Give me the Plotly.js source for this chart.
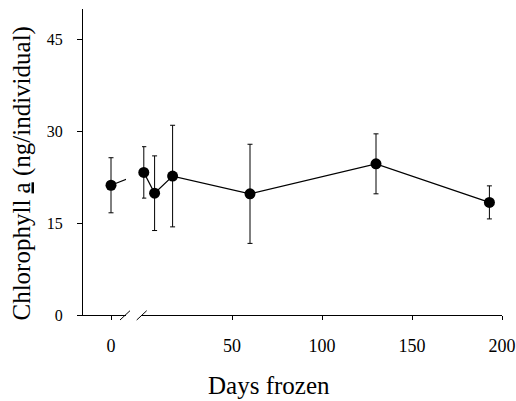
<!DOCTYPE html>
<html>
<head>
<meta charset="utf-8">
<script src="https://cdn.plot.ly/plotly-3.0.1.min.js"></script>
<style>html,body{margin:0;padding:0;background:#fff;}</style>
</head>
<body>
<div id="chart" style="width:516px;height:401px;"></div>
<script>
// Data
const days = [0, 1, 7, 17, 60, 130, 193];
const chlorophyll = [21.2, 23.3, 19.9, 22.7, 19.8, 24.7, 18.4];
const errors = [4.5, 4.2, 6.1, 8.3, 8.1, 4.9, 2.7];
const xTicksMain = [50, 100, 150, 200];
const yTicks = [0, 15, 30, 45];

const serif = 'Liberation Serif';
const common = {
  mode: 'lines+markers',
  type: 'scatter',
  line: {color: '#000', width: 1.2},
  marker: {color: '#000', size: 11},
  showlegend: false,
  hoverinfo: 'skip'
};

// Segment before the axis break (fresh, day 0); its line runs toward the next point and is clipped at the break
const tr1 = Object.assign({}, common, {
  x: days.slice(0, 2), y: chlorophyll.slice(0, 2),
  error_y: {type: 'data', array: errors.slice(0, 2), visible: true, color: '#000', thickness: 1, width: 2.5},
  xaxis: 'x', yaxis: 'y'
});
// Main segment after the break
const tr2 = Object.assign({}, common, {
  x: days.slice(1), y: chlorophyll.slice(1),
  error_y: {type: 'data', array: errors.slice(1), visible: true, color: '#000', thickness: 1, width: 2.5},
  xaxis: 'x2', yaxis: 'y', cliponaxis: false
});

const W = 419, H = 306; // plot area
function px(p) { return (p - 83) / W; }
function py(p) { return (315 - p) / H; }

const layout = {
  width: 516, height: 401,
  margin: {l: 83, r: 14, t: 9, b: 86},
  paper_bgcolor: '#fff', plot_bgcolor: '#fff',
  font: {family: serif, color: '#000'},
  xaxis: {
    domain: [0, px(126)],
    range: [-0.867, 0.464],
    tickvals: [0], ticktext: ['0'],
    ticks: 'outside', ticklen: 4, tickwidth: 1, tickcolor: '#000',
    showline: true, linecolor: '#000', linewidth: 1,
    showgrid: false, zeroline: false,
    tickfont: {family: serif, size: 18, color: '#000'},
    ticklabelstandoff: 10
  },
  xaxis2: {
    domain: [px(142), 1],
    range: [0, 200],
    tickvals: xTicksMain,
    ticks: 'outside', ticklen: 4, tickwidth: 1, tickcolor: '#000',
    showline: true, linecolor: '#000', linewidth: 1,
    showgrid: false, zeroline: false,
    tickfont: {family: serif, size: 18, color: '#000'},
    ticklabelstandoff: 10,
    anchor: 'y'
  },
  yaxis: {
    range: [0, 50],
    tickvals: yTicks,
    ticks: 'outside', ticklen: 5, tickwidth: 1, tickcolor: '#000',
    showline: true, linecolor: '#000', linewidth: 1,
    showgrid: false, zeroline: false,
    tickfont: {family: serif, size: 16, color: '#000'},
    ticklabelstandoff: 11
  },
  shapes: [
    {type: 'line', xref: 'paper', yref: 'paper', x0: px(120), y0: py(320), x1: px(130), y1: py(310.7), line: {color: '#000', width: 1}},
    {type: 'line', xref: 'paper', yref: 'paper', x0: px(136.7), y0: py(320), x1: px(146.7), y1: py(310.7), line: {color: '#000', width: 1}}
  ],
  annotations: [
    {text: 'Days frozen', xref: 'paper', yref: 'paper', x: px(269), y: py(385),
     xanchor: 'center', yanchor: 'middle', showarrow: false,
     font: {family: serif, size: 25, color: '#000'}},
    {text: 'Chlorophyll <u>a</u> (ng/individual)', xref: 'paper', yref: 'paper', x: px(21), y: py(173.5),
     xanchor: 'center', yanchor: 'middle', showarrow: false, textangle: -90,
     font: {family: serif, size: 25, color: '#000'}}
  ]
};

Plotly.newPlot('chart', [tr1, tr2], layout, {displayModeBar: false, staticPlot: true});
</script>
</body>
</html>
